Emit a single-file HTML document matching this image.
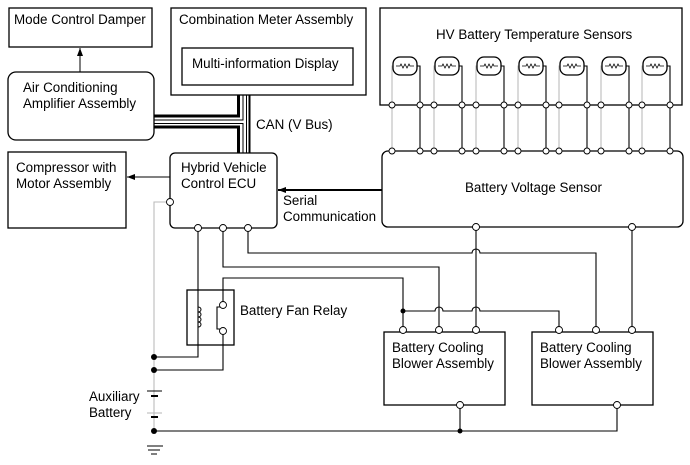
<!DOCTYPE html>
<html><head><meta charset="utf-8"><style>
html,body{margin:0;padding:0;background:#fff;}
svg{display:block;}
text{font-family:"Liberation Sans",Arial,sans-serif;font-size:13.4px;fill:#000;}
</style></head><body>
<svg width="690" height="465" viewBox="0 0 690 465" xmlns="http://www.w3.org/2000/svg">
<defs>
<marker id="ah" markerWidth="8" markerHeight="6" refX="8" refY="3" orient="auto" markerUnits="userSpaceOnUse"><path d="M0,0 L8,3 L0,6 z" fill="#000"/></marker>
<g id="sens">
  <rect x="-12" y="-9" width="24" height="18" rx="7" fill="#fff" stroke="#000" stroke-width="1.3"/>
  <path d="M-9,0 H-5 l1,-2 l2,4 l2,-4 l2,4 l2,-4 l1,2 H9" fill="none" stroke="#000" stroke-width="0.8"/>
</g>
</defs>
<g fill="none" stroke="#000" stroke-width="1.3">
<rect x="9" y="8" width="143" height="39"/>
<rect x="171" y="8" width="195" height="87"/>
<rect x="182" y="48" width="171" height="37"/>
<rect x="380" y="8" width="302" height="97"/>
<rect x="382" y="151" width="301" height="76" rx="6"/>
<rect x="8" y="72" width="146" height="68" rx="8"/>
<rect x="8" y="152" width="118" height="76"/>
<rect x="170" y="153" width="107" height="75" rx="5"/>
<rect x="187" y="290" width="47" height="55"/>
<rect x="384" y="332" width="121" height="73"/>
<rect x="532" y="332" width="121" height="73"/>
</g>
<line x1="80" y1="72" x2="80" y2="48" stroke="#000" stroke-width="1" marker-end="url(#ah)"/>
<line x1="170" y1="177" x2="127" y2="177" stroke="#000" stroke-width="1" marker-end="url(#ah)"/>
<line x1="382" y1="190" x2="278" y2="190" stroke="#000" stroke-width="2" marker-end="url(#ah)"/>
<g stroke="#000" fill="none">
<path d="M154,116 H238.5 V95" stroke-width="3"/>
<path d="M154,127 H238.5 V153" stroke-width="3"/>
<path d="M154,120 H243 V95 M154,123.5 H243 V153" stroke-width="1"/>
<line x1="246.5" y1="95" x2="246.5" y2="153" stroke-width="1"/>
<line x1="249.5" y1="95" x2="249.5" y2="153" stroke-width="2"/>
</g>
<g stroke-width="1.1" fill="none">
<g transform="translate(405,66)"><path d="M-12,0 H-13 V85" stroke="#bbb"/><path d="M12,0 H15 V85" stroke="#000"/><use href="#sens"/></g>
<g transform="translate(447,66)"><path d="M-12,0 H-13 V85" stroke="#bbb"/><path d="M12,0 H15 V85" stroke="#000"/><use href="#sens"/></g>
<g transform="translate(489,66)"><path d="M-12,0 H-13 V85" stroke="#bbb"/><path d="M12,0 H15 V85" stroke="#000"/><use href="#sens"/></g>
<g transform="translate(531,66)"><path d="M-12,0 H-13 V85" stroke="#bbb"/><path d="M12,0 H15 V85" stroke="#000"/><use href="#sens"/></g>
<g transform="translate(572,66)"><path d="M-12,0 H-13 V85" stroke="#bbb"/><path d="M12,0 H15 V85" stroke="#000"/><use href="#sens"/></g>
<g transform="translate(614,66)"><path d="M-12,0 H-13 V85" stroke="#bbb"/><path d="M12,0 H15 V85" stroke="#000"/><use href="#sens"/></g>
<g transform="translate(655,66)"><path d="M-12,0 H-13 V85" stroke="#bbb"/><path d="M12,0 H15 V85" stroke="#000"/><use href="#sens"/></g>
</g>
<g fill="#fff" stroke="#000" stroke-width="0.9">
<circle cx="392" cy="105" r="3"/><circle cx="420" cy="105" r="3"/><circle cx="434" cy="105" r="3"/><circle cx="462" cy="105" r="3"/><circle cx="476" cy="105" r="3"/><circle cx="504" cy="105" r="3"/><circle cx="518" cy="105" r="3"/><circle cx="546" cy="105" r="3"/><circle cx="559" cy="105" r="3"/><circle cx="587" cy="105" r="3"/><circle cx="601" cy="105" r="3"/><circle cx="629" cy="105" r="3"/><circle cx="642" cy="105" r="3"/><circle cx="670" cy="105" r="3"/>
<circle cx="392" cy="151" r="3"/><circle cx="420" cy="151" r="3"/><circle cx="434" cy="151" r="3"/><circle cx="462" cy="151" r="3"/><circle cx="476" cy="151" r="3"/><circle cx="504" cy="151" r="3"/><circle cx="518" cy="151" r="3"/><circle cx="546" cy="151" r="3"/><circle cx="559" cy="151" r="3"/><circle cx="587" cy="151" r="3"/><circle cx="601" cy="151" r="3"/><circle cx="629" cy="151" r="3"/><circle cx="642" cy="151" r="3"/><circle cx="670" cy="151" r="3"/>
</g>
<g fill="none" stroke-width="1.1">
<path d="M170,202 H154 V431" stroke="#bbb"/>
<g stroke="#000">
<path d="M198,228 V357 H154"/>
<path d="M223,305 V278 H403 V330"/>
<path d="M223,331 V370 H154"/>
<path d="M223,228 V267 H439 V330"/>
<path d="M248,228 V253 H472 a4,4 0 0 1 8,0 H596 V330"/>
<path d="M403,311 H435 a4,4 0 0 1 8,0 H472 a4,4 0 0 1 8,0 H559 V330"/>
<path d="M476,227 V330"/>
<path d="M632,227 V330"/>
<path d="M154,431 H617 V405"/>
<path d="M460,405 V431"/>
<path d="M198,307 c4,0 4,5 0,5 c4,0 4,5 0,5 c4,0 4,5 0,5 c4,0 4,5 0,5" stroke-width="1"/>
<path d="M220,307 h-3 v22 h3" />
<path d="M147,391 H162 M147,446 H163 M148,450 H160 M151,454 H157"/>
<path d="M151,396 H158" stroke-width="2"/>
<path d="M151,417 H158" stroke-width="2"/>
</g>
<path d="M147,413 H162" stroke="#bbb"/>
</g>
<g fill="#fff" stroke="#000" stroke-width="0.9">
<circle cx="170" cy="202" r="3.5"/><circle cx="198" cy="228" r="3.5"/><circle cx="223" cy="228" r="3.5"/><circle cx="248" cy="228" r="3.5"/>
<circle cx="476" cy="227" r="3.5"/><circle cx="632" cy="227" r="3.5"/>
<circle cx="223" cy="305" r="3.5"/><circle cx="223" cy="331" r="3.5"/>
<circle cx="403" cy="330" r="3.5"/><circle cx="439" cy="330" r="3.5"/><circle cx="476" cy="330" r="3.5"/>
<circle cx="559" cy="330" r="3.5"/><circle cx="596" cy="330" r="3.5"/><circle cx="632" cy="330" r="3.5"/>
<circle cx="460" cy="405" r="3.5"/><circle cx="617" cy="405" r="3.5"/>
</g>
<g fill="#000">
<circle cx="154" cy="357" r="3"/><circle cx="154" cy="370" r="3"/><circle cx="154" cy="431" r="3"/>
<circle cx="403" cy="311" r="2.5"/><circle cx="460" cy="431" r="2.5"/>
</g>
<text x="14" y="24">Mode Control Damper</text>
<text x="179" y="24">Combination Meter Assembly</text>
<text x="192" y="68">Multi-information Display</text>
<text x="436" y="39">HV Battery Temperature Sensors</text>
<text x="23" y="92">Air Conditioning</text>
<text x="23" y="108">Amplifier Assembly</text>
<text x="256" y="129">CAN (V Bus)</text>
<text x="16" y="172">Compressor with</text>
<text x="16" y="188">Motor Assembly</text>
<text x="181" y="172">Hybrid Vehicle</text>
<text x="181" y="188">Control ECU</text>
<text x="283" y="205">Serial</text>
<text x="283" y="221">Communication</text>
<text x="465" y="192">Battery Voltage Sensor</text>
<text x="240" y="315">Battery Fan Relay</text>
<text x="392" y="352">Battery Cooling</text>
<text x="392" y="368">Blower Assembly</text>
<text x="540" y="352">Battery Cooling</text>
<text x="540" y="368">Blower Assembly</text>
<text x="89" y="401">Auxiliary</text>
<text x="89" y="417">Battery</text>
</svg>
</body></html>
